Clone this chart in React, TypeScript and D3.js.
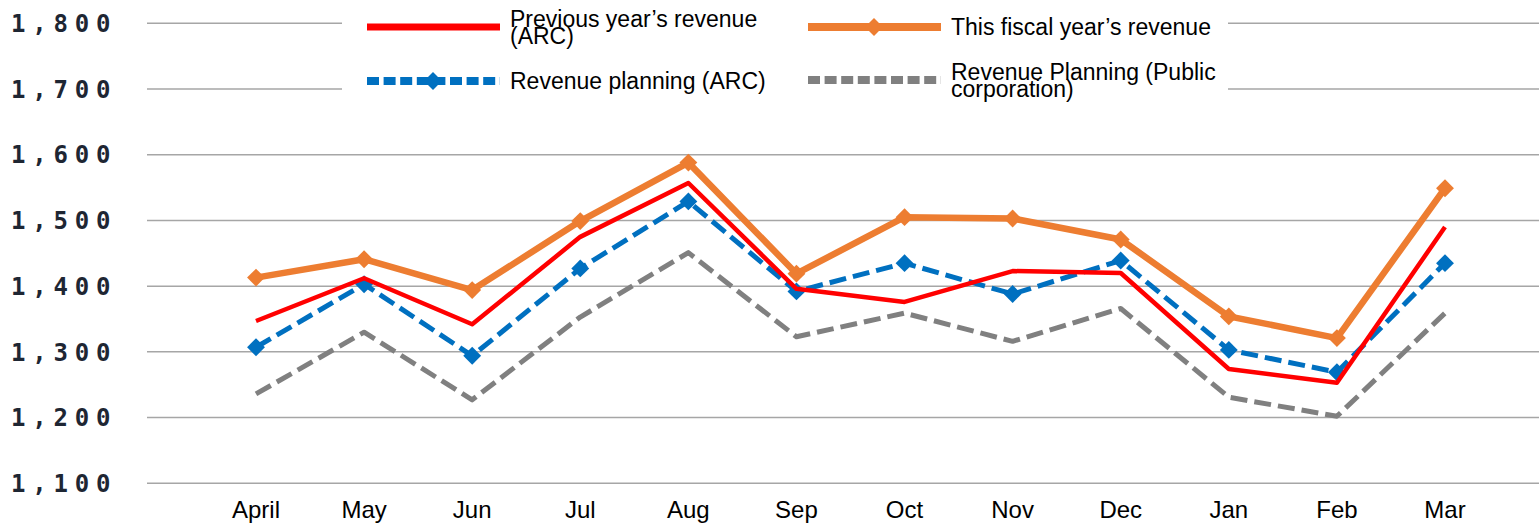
import * as d3 from "d3";
import { useEffect, useRef } from "react";

const months = ["April", "May", "Jun", "Jul", "Aug", "Sep", "Oct", "Nov", "Dec", "Jan", "Feb", "Mar"];
const prevYearArc = [1347, 1412, 1342, 1475, 1557, 1396, 1376, 1423, 1420, 1274, 1253, 1490];
const thisYear = [1413, 1441, 1394, 1499, 1588, 1419, 1505, 1503, 1471, 1354, 1321, 1549];
const planArc = [1307, 1403, 1294, 1427, 1529, 1392, 1435, 1388, 1439, 1303, 1269, 1435];
const planPublic = [1236, 1330, 1227, 1353, 1451, 1323, 1359, 1316, 1366, 1231, 1202, 1359];
const yTicks = [1100, 1200, 1300, 1400, 1500, 1600, 1700, 1800];

const W = 1539;
const H = 524;

const series = [
  { key: "public", label: ["Revenue Planning (Public", "corporation)"], values: planPublic, color: "#808080", width: 5, dash: "17,7", marker: false, lx: 808, ly: 80 },
  { key: "plan", label: ["Revenue planning (ARC)"], values: planArc, color: "#0070c0", width: 5, dash: "17,7", marker: true, lx: 367, ly: 81 },
  { key: "prev", label: ["Previous year\u2019s revenue", "(ARC)"], values: prevYearArc, color: "#ff0000", width: 4.5, dash: null, marker: false, lx: 367, ly: 27 },
  { key: "this", label: ["This fiscal year\u2019s revenue"], values: thisYear, color: "#ed7d31", width: 6.5, dash: null, marker: true, lx: 808, ly: 27 },
];

function App() {
  const svgRef = useRef<SVGSVGElement>(null);

  useEffect(() => {
    const svg = d3.select(svgRef.current);
    svg.selectAll("*").remove();

    const x = d3.scalePoint<string>().domain(months).range([256, 1445]);
    const y = d3.scaleLinear().domain([1100, 1800]).range([483.3, 23.3]);

    // gridlines
    svg
      .append("g")
      .selectAll("line")
      .data(yTicks)
      .join("line")
      .attr("x1", 147)
      .attr("x2", W)
      .attr("y1", (d) => y(d))
      .attr("y2", (d) => y(d))
      .attr("stroke", "#a6a6a6")
      .attr("stroke-width", 1.5);

    // y labels
    const fmt = d3.format(",");
    svg
      .append("g")
      .selectAll("text")
      .data(yTicks)
      .join("text")
      .attr("x", 11)
      .attr("y", (d) => y(d))
      .attr("dy", "0.36em")
      .attr("font-family", "DejaVu Sans Mono")
      .attr("font-weight", "bold")
      .attr("font-size", 24)
      .attr("letter-spacing", 6.8)
      .attr("fill", "#1e2633")
      .text((d) => fmt(d));

    // x labels
    svg
      .append("g")
      .selectAll("text")
      .data(months)
      .join("text")
      .attr("x", (d) => x(d)!)
      .attr("y", 518)
      .attr("text-anchor", "middle")
      .attr("font-family", "Liberation Sans, Arial, sans-serif")
      .attr("font-size", 24)
      .attr("fill", "#000")
      .text((d) => d);

    const line = d3
      .line<number>()
      .x((_, i) => x(months[i])!)
      .y((d) => y(d));

    const diamond = d3.symbol().type(d3.symbolSquare).size(160);

    series.forEach((s) => {
      const g = svg.append("g");
      g.append("path")
        .datum(s.values)
        .attr("d", line)
        .attr("fill", "none")
        .attr("stroke", s.color)
        .attr("stroke-width", s.width)
        .attr("stroke-linejoin", "round")
        .attr("stroke-dasharray", s.dash);
      if (s.marker) {
        g.selectAll("path.mk")
          .data(s.values)
          .join("path")
          .attr("class", "mk")
          .attr("d", diamond()!)
          .attr("fill", s.color)
          .attr("transform", (d, i) => `translate(${x(months[i])},${y(d)}) rotate(45)`);
      }
    });

    // legend
    const lg = svg.append("g");
    lg.append("rect").attr("x", 342).attr("y", 4).attr("width", 886).attr("height", 98).attr("fill", "#fff");
    series.forEach((s) => {
      const item = lg.append("g").attr("transform", `translate(${s.lx},${s.ly})`);
      item
        .append("line")
        .attr("x1", 0)
        .attr("x2", 133)
        .attr("stroke", s.color)
        .attr("stroke-width", s.key === "prev" ? 7 : 8)
        .attr("stroke-dasharray", s.dash ? "12,4.6" : null);
      if (s.marker) {
        item.append("path").attr("d", diamond()!).attr("fill", s.color).attr("transform", "translate(66,0) rotate(45)");
      }
      const t = item
        .append("text")
        .attr("x", 143)
        .attr("font-family", "Liberation Sans, Arial, sans-serif")
        .attr("font-size", 23)
        .attr("fill", "#000");
      if (s.label.length === 1) {
        t.append("tspan").attr("x", 143).attr("y", 8).text(s.label[0]);
      } else {
        t.append("tspan").attr("x", 143).attr("y", 0).text(s.label[0]);
        t.append("tspan").attr("x", 143).attr("y", 17).text(s.label[1]);
      }
    });
  }, []);

  return (
    <svg
      ref={svgRef}
      width={W}
      height={H}
      style={{ position: "absolute", left: 0, top: 0, background: "#fff" }}
    />
  );
}

export default App;
